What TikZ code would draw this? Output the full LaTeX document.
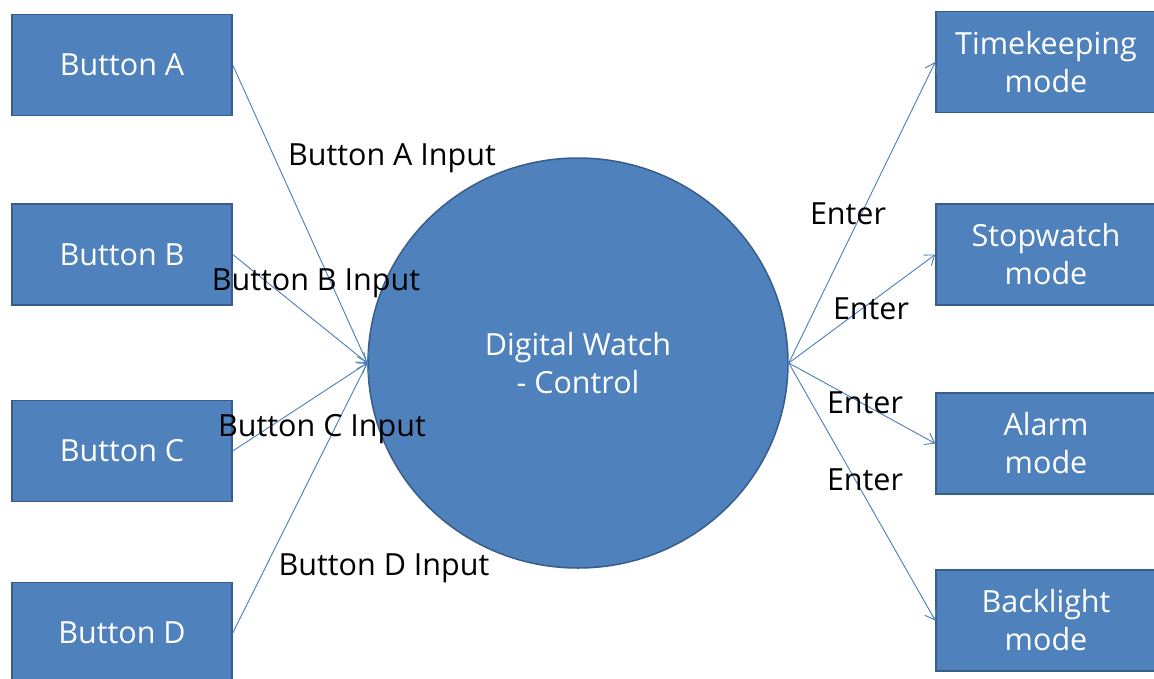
\documentclass[tikz,border=0pt]{standalone}
\usepackage{fontspec}
\setmainfont{Open Sans}
\usepackage{tikz}
\usetikzlibrary{arrows.meta,shapes.geometric}
\definecolor{boxblue}{HTML}{4F81BD}
\definecolor{boxedge}{HTML}{385D8A}
\definecolor{linkblue}{HTML}{4A7EBB}

\begin{document}
\begin{tikzpicture}[x=1pt,y=-1pt,
    every node/.style={font=\fontsize{30.5}{38}\selectfont},
    blockbox/.style={draw=boxedge,fill=boxblue,line width=1.5pt,text=white,align=center,minimum width=220pt,minimum height=101pt,inner sep=0pt},
    link/.style={draw=linkblue,line width=0.9pt,-{Straight Barb[length=9pt,width=13pt,line width=0.9pt]}},
    linklabel/.style={text=black,inner sep=0pt}]

            % Canvas
            \useasboundingbox (0,0) rectangle (1154,678);

            % Buttons on the left
            \node[blockbox] (btnA) at (122,65) {Button A};
            \node[blockbox] (btnB) at (122,254.5) {Button B};
            \node[blockbox] (btnC) at (122,451) {Button C};
            \node[blockbox] (btnD) at (122,633) {Button D};

            % Controller in the middle
            \node[draw=boxedge,fill=boxblue,line width=1.5pt,text=white,align=center,ellipse,minimum width=420pt,minimum height=410pt,inner sep=0pt] (ctrl) at (578,363) {Digital Watch\\- Control};

            % Modes on the right
            \node[blockbox] (modeT) at (1046,62) {Timekeeping\\mode};
            \node[blockbox] (modeS) at (1046,254.5) {Stopwatch\\mode};
            \node[blockbox] (modeA) at (1046,443.5) {Alarm\\mode};
            \node[blockbox] (modeB) at (1046,620.5) {Backlight\\mode};

            \coordinate (ctrlIn) at (ctrl.west);
            \coordinate (ctrlOut) at (ctrl.east);

            % Inputs
            \draw[link] (btnA.east) -- (ctrlIn);
            \draw[link] (btnB.east) -- (ctrlIn);
            \draw[link] (btnC.east) -- (ctrlIn);
            \draw[link] (btnD.east) -- (ctrlIn);

            % Outputs
            \draw[link] (ctrlOut) -- (modeT.west);
            \draw[link] (ctrlOut) -- (modeS.west);
            \draw[link] (ctrlOut) -- (modeA.west);
            \draw[link] (ctrlOut) -- (modeB.west);

            \node[linklabel] (lblA) at (392,158) {Button A Input};
            \node[linklabel] (lblB) at (316,283) {Button B Input};
            \node[linklabel] (lblC) at (322,429) {Button C Input};
            \node[linklabel] (lblD) at (384,568) {Button D Input};

            \node[linklabel] (entT) at (848,214) {Enter};
            \node[linklabel] (entS) at (871,309) {Enter};
            \node[linklabel] (entA) at (865,403) {Enter};
            \node[linklabel] (entB) at (865,480) {Enter};

\end{tikzpicture}
\end{document}
